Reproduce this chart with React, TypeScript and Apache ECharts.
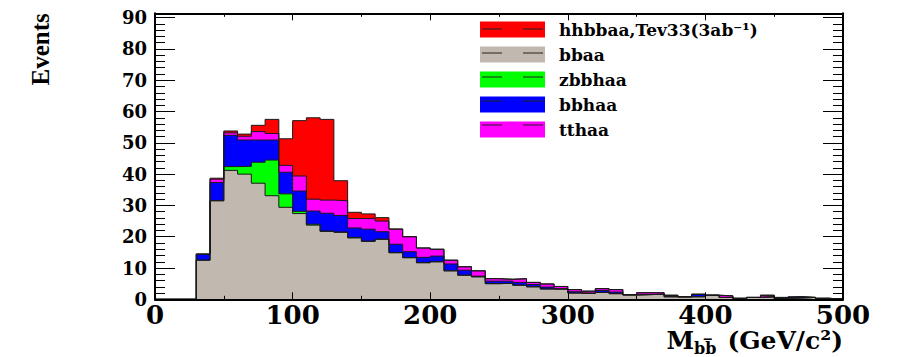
import React, { useEffect, useRef } from "react";
import * as echarts from "echarts";

// Bin lower edges (GeV/c^2), bin width 10
const binStarts = [
  0, 10, 20, 30, 40, 50, 60, 70, 80, 90,
  100, 110, 120, 130, 140, 150, 160, 170, 180, 190,
  200, 210, 220, 230, 240, 250, 260, 270, 280, 290,
  300, 310, 320, 330, 340, 350, 360, 370, 380, 390,
  400, 410, 420, 430, 440, 450, 460, 470, 480, 490,
];
const xUpper = 500;

// Per-sample event counts per bin (not stacked)
const bbaa = [
  0, 0, 0, 12.5, 31.5, 41.2, 40.0, 37.1, 33.1, 29.4,
  27.4, 23.7, 21.7, 21.4, 19.6, 18.5, 19.2, 14.9, 13.3, 11.7,
  12.0, 9.1, 7.7, 7.2, 5.0, 5.1, 4.5, 4.0, 3.3, 3.3,
  2.0, 1.9, 2.2, 1.8, 1.4, 1.5, 1.6, 0.8, 0.8, 0.8,
  1.3, 0.6, 0.3, 0.6, 0.8, 0.3, 0.4, 0.6, 0.3, 0.1,
];
const zbbhaa = [
  0, 0, 0, 0, 0, 1.2, 2.5, 6.7, 11.4, 4.3,
  0.7, 0.3, 0.1, 0.1, 0.2, 0.1, 0, 0, 0, 0,
  0, 0, 0, 0, 0, 0, 0, 0, 0, 0,
  0, 0, 0, 0, 0, 0, 0, 0, 0, 0,
  0, 0, 0, 0, 0, 0, 0, 0, 0, 0,
];
const bbhaa = [
  0, 0, 0, 1.9, 5.8, 10.0, 8.4, 7.1, 6.4, 6.9,
  6.5, 4.2, 5.7, 5.3, 3.0, 3.8, 2.4, 2.7, 1.9, 1.7,
  1.8, 2.2, 1.6, 0.2, 0.8, 0.7, 0.9, 0.7, 0.6, 0,
  0.4, 0, 0.6, 0.5, 0, 0, 0, 0.3, 0, 0.8,
  0, 0, 0, 0, 0, 0, 0.4, 0, 0, 0,
];
const tthaa = [
  0, 0, 0, 0, 1.1, 0.8, 1.2, 2.7, 2.1, 2.2,
  4.8, 3.8, 4.2, 4.7, 3.0, 3.4, 3.4, 4.8, 4.8, 3.0,
  2.2, 1.2, 1.1, 1.7, 0.8, 0.6, 1.2, 0.7, 1.0, 0.8,
  0.7, 0.7, 0.6, 0.8, 0.1, 0.6, 0.5, 0.2, 0, 0,
  0, 0.5, 0, 0, 0.5, 0.3, 0, 0, 0, 0,
];
const hhbbaa = [
  0, 0, 0, 0.1, 0.3, 0.6, 0.7, 2.0, 4.5, 8.5,
  17.7, 26.0, 25.8, 6.4, 2.0, 1.5, 1.1, 0.1, 0, 0,
  0, 0, 0, 0, 0, 0, 0, 0, 0, 0,
  0, 0, 0, 0, 0, 0, 0, 0, 0, 0,
  0, 0, 0, 0, 0, 0, 0, 0, 0, 0,
];

const xTickLabels = [0, 100, 200, 300, 400, 500];
const yTickLabels = [0, 10, 20, 30, 40, 50, 60, 70, 80, 90];

const NAME_HH = "hhbbaa,Tev33(3ab\u207B\u00B9)";
const legendOrder = [NAME_HH, "bbaa", "zbbhaa", "bbhaa", "tthaa"];
const xTitle = "{m|M}{s|bb\u0305}{sp| }{m| (GeV/c\u00B2)}";
const yTitle = "Events";

// stack order: bottom -> top
const stackLayers = [
  { name: "bbaa", values: bbaa, color: "#c1b9b0" },
  { name: "zbbhaa", values: zbbhaa, color: "#00ff00" },
  { name: "bbhaa", values: bbhaa, color: "#0000ff" },
  { name: "tthaa", values: tthaa, color: "#ff00ff" },
  { name: NAME_HH, values: hhbbaa, color: "#ff0000" },
];

const SERIF = "'DejaVu Serif', 'Liberation Serif', serif";
const TIMES = "'Liberation Serif', 'DejaVu Serif', serif";

export default function App() {
  const ref = useRef<HTMLDivElement>(null);

  useEffect(() => {
    if (!ref.current) return;
    const chart = echarts.init(ref.current, undefined, { renderer: "svg" });

    let running = binStarts.map(() => 0);
    const cumulative = stackLayers.map((layer) => {
      running = running.map((v, i) => Math.round((v + layer.values[i]) * 100) / 100);
      return { ...layer, cum: running };
    });

    const series = cumulative
      .slice()
      .reverse()
      .map((layer) => ({
        type: "line",
        name: layer.name,
        step: "end",
        symbol: "none",
        showSymbol: false,
        silent: true,
        color: layer.color,
        data: [
          ...binStarts.map((x, i) => [x, layer.cum[i]]),
          [xUpper, layer.cum[layer.cum.length - 1]],
        ],
        lineStyle: { color: "#1a1a1a", width: 1 },
        itemStyle: { color: layer.color, borderWidth: 0 },
        areaStyle: { color: layer.color, opacity: 1, origin: "start" },
      }));

    const axisLine = { show: true, onZero: false, lineStyle: { color: "#000", width: 2 } };
    const xFmt = (v: number) => (xTickLabels.includes(v) ? String(v) : "");
    const yFmt = (v: number) => (yTickLabels.includes(v) ? String(v) : "");

    const legendRowsY = [29, 53, 77, 101, 125];
    const graphic: any[] = legendRowsY.flatMap((y) => [
      { type: "line", z: 100, shape: { x1: 482, y1: y, x2: 502, y2: y }, style: { stroke: "#222", lineWidth: 1 } },
      { type: "line", z: 100, shape: { x1: 523, y1: y, x2: 543, y2: y }, style: { stroke: "#222", lineWidth: 1 } },
    ]);
    graphic.push({
      type: "text",
      z: 100,
      x: 843,
      y: 328,
      style: {
        text: xTitle,
        align: "right",
        verticalAlign: "top",
        rich: {
          m: { fontFamily: SERIF, fontWeight: "bold", fontSize: 25, fill: "#000", lineHeight: 26, verticalAlign: "top" },
          s: { fontFamily: SERIF, fontWeight: "bold", fontSize: 16, fill: "#000", lineHeight: 16, verticalAlign: "bottom" },
          sp: { fontSize: 8, lineHeight: 28, verticalAlign: "top" },
        },
      },
    });

    chart.setOption({
      animation: false,
      backgroundColor: "#ffffff",
      grid: { left: 155, right: 61, top: 13.3, bottom: 57.7, containLabel: false, outerBoundsMode: "none" },
      legend: {
        data: legendOrder,
        orient: "vertical",
        left: 480,
        top: 21,
        padding: 0,
        itemWidth: 65,
        itemHeight: 16,
        itemGap: 8,
        icon: "rect",
        selectedMode: false,
        itemStyle: { borderWidth: 0 },
        textStyle: {
          fontFamily: SERIF,
          fontWeight: "bold",
          fontSize: 17,
          color: "#000",
          lineHeight: 16,
          padding: [0, 0, 0, 9],
        },
      },
      xAxis: [
        {
          type: "value",
          min: 0,
          max: 500,
          interval: 100,
          position: "bottom",
          z: 10,
          axisLine,
          axisTick: { show: true, inside: true, length: 7, lineStyle: { color: "#000", width: 1 } },
          minorTick: { show: true, splitNumber: 2, length: 3.5, lineStyle: { color: "#000", width: 1 } },
          splitLine: { show: false },
          minorSplitLine: { show: false },
          axisLabel: {
            margin: 5,
            color: "#000",
            fontFamily: SERIF,
            fontWeight: "bold",
            fontSize: 26,
            lineHeight: 22,
            formatter: xFmt,
          },
        },
        {
          type: "value",
          min: 0,
          max: 500,
          interval: 100,
          position: "top",
          z: 10,
          axisLine,
          axisTick: { show: true, inside: true, length: 7, lineStyle: { color: "#000", width: 1 } },
          minorTick: { show: true, splitNumber: 2, length: 3.5, lineStyle: { color: "#000", width: 1 } },
          splitLine: { show: false },
          axisLabel: { show: false },
        },
      ],
      yAxis: [
        {
          type: "value",
          min: 0,
          max: 91.4,
          interval: 10,
          position: "left",
          z: 10,
          axisLine,
          axisTick: { show: true, inside: true, length: 20, lineStyle: { color: "#000", width: 1 } },
          minorTick: { show: true, splitNumber: 5, length: 10, lineStyle: { color: "#000", width: 1 } },
          splitLine: { show: false },
          minorSplitLine: { show: false },
          axisLabel: {
            margin: 8,
            color: "#000",
            fontFamily: SERIF,
            fontWeight: "bold",
            fontSize: 18,
            formatter: yFmt,
          },
          name: yTitle,
          nameLocation: "end",
          nameGap: 0,
          nameRotate: 90,
          nameTextStyle: {
            align: "right",
            verticalAlign: "bottom",
            padding: [0, 0, 102, 0],
            fontFamily: TIMES,
            fontWeight: "bold",
            fontSize: 25,
            color: "#000",
          },
        },
        {
          type: "value",
          min: 0,
          max: 91.4,
          interval: 10,
          position: "right",
          z: 10,
          axisLine,
          axisTick: { show: true, inside: true, length: 20, lineStyle: { color: "#000", width: 1 } },
          minorTick: { show: true, splitNumber: 5, length: 10, lineStyle: { color: "#000", width: 1 } },
          splitLine: { show: false },
          axisLabel: { show: false },
        },
      ],
      series,
      graphic,
    });

    return () => chart.dispose();
  }, []);

  return (
    <div
      ref={ref}
      style={{ position: "fixed", left: 0, top: 0, width: 904, height: 357, background: "#fff" }}
    />
  );
}
